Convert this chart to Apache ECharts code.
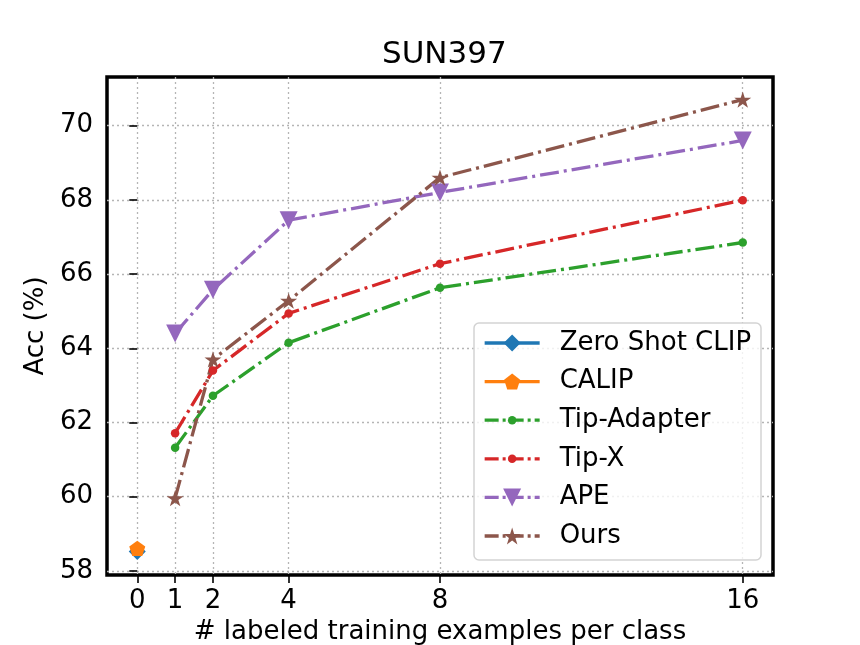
<!DOCTYPE html>
<html>
<head>
<meta charset="utf-8">
<script src="https://cdn.jsdelivr.net/npm/echarts@6/dist/echarts.min.js"></script>
<style>
  html, body { margin: 0; padding: 0; background: #fff; }
  #main { width: 860px; height: 645px; }
</style>
</head>
<body>
<div id="main"></div>
<script>
// values
const shots = [1, 2, 4, 8, 16];
const xTicks = [0, 1, 2, 4, 8, 16];
const yTicks = [58, 60, 62, 64, 66, 68, 70];
const zeroShotClip = [58.52];
const calip = [58.61];
const tipAdapter = [61.32, 62.72, 64.15, 65.63, 66.85];
const tipX = [61.71, 63.40, 64.94, 66.28, 67.99];
const ape = [64.40, 65.58, 67.45, 68.20, 69.60];
const ours = [59.96, 63.70, 65.28, 68.60, 70.70];

const FONT = 'DejaVu Sans';
const STAR = 'path://M50,0 L61.2,34.5 L97.6,34.5 L68.2,55.9 L79.4,90.5 L50,69.1 L20.6,90.5 L31.8,55.9 L2.4,34.5 L38.8,34.5 Z';
const PENTAGON = 'path://M50,0 L97.6,34.5 L79.4,90.5 L20.6,90.5 L2.4,34.5 Z';
const dashDot = [19, 5, 3, 5];

const specs = [
  { name: 'Zero Shot CLIP', x: [0], y: zeroShotClip, color: '#1f77b4', symbol: 'diamond', size: 17, rotate: 0, dash: 'solid' },
  { name: 'CALIP', x: [0], y: calip, color: '#ff7f0e', symbol: PENTAGON, size: 16, rotate: 0, dash: 'solid' },
  { name: 'Tip-Adapter', x: shots, y: tipAdapter, color: '#2ca02c', symbol: 'circle', size: 8.5, rotate: 0, dash: dashDot },
  { name: 'Tip-X', x: shots, y: tipX, color: '#d62728', symbol: 'circle', size: 8.5, rotate: 0, dash: dashDot },
  { name: 'APE', x: shots, y: ape, color: '#9467bd', symbol: 'triangle', size: 18, rotate: 180, dash: dashDot },
  { name: 'Ours', x: shots, y: ours, color: '#8c564b', symbol: STAR, size: 17, rotate: 0, dash: dashDot }
];

const series = specs.map(s => ({
  name: s.name,
  type: 'line',
  data: s.x.map((v, i) => [v, s.y[i]]),
  color: s.color,
  symbol: s.symbol,
  symbolSize: s.size,
  symbolRotate: s.rotate,
  symbolKeepAspect: true,
  showSymbol: true,
  lineStyle: { width: 3.3, type: s.dash, color: s.color },
  itemStyle: { color: s.color },
  animation: false
}));

// one legend per entry so every marker keeps its own size
const legends = specs.map((s, i) => ({
  data: [s.name],
  orient: 'vertical',
  left: 483,
  top: 330 + i * 38.6,
  padding: 0,
  itemWidth: 55,
  itemHeight: s.size / 0.8,
  selectedMode: false,
  lineStyle: { width: 3.3, type: s.dash === 'solid' ? 'solid' : [14, 4, 3, 4] },
  textStyle: { fontFamily: FONT, fontSize: 26, lineHeight: 26, color: '#000', padding: [0, 0, 0, 15] }
}));

const splitStyle = { color: '#b5b5b5', width: 1.3, type: [2, 3] };

const chart = echarts.init(document.getElementById('main'), null, { renderer: 'canvas' });
chart.setOption({
  backgroundColor: '#fff',
  animation: false,
  title: {
    text: 'SUN397',
    left: 377,
    top: 34,
    textStyle: { fontFamily: FONT, fontSize: 31, fontWeight: 'normal', color: '#000' }
  },
  grid: {
    left: 107, right: 87, top: 77, bottom: 70,
    outerBoundsMode: 'none',
    show: true, borderColor: '#000', borderWidth: 3.5, backgroundColor: 'transparent'
  },
  xAxis: {
    type: 'value',
    min: -0.8,
    max: 16.8,
    name: '# labeled training examples per class',
    nameLocation: 'middle',
    nameGap: 43,
    nameTextStyle: { fontFamily: FONT, fontSize: 26, color: '#000' },
    axisLine: { show: false },
    axisTick: { show: true, customValues: xTicks, length: 8, lineStyle: { color: '#000', width: 1.6 } },
    axisLabel: { customValues: xTicks, fontFamily: FONT, fontSize: 26, color: '#000', margin: 13 },
    splitLine: { show: true, lineStyle: splitStyle }
  },
  yAxis: {
    type: 'value',
    min: 57.89,
    max: 71.31,
    name: 'Acc (%)',
    nameLocation: 'middle',
    nameGap: 57,
    nameTextStyle: { fontFamily: FONT, fontSize: 26, color: '#000' },
    axisLine: { show: false },
    axisTick: { show: true, customValues: yTicks, length: 8, lineStyle: { color: '#000', width: 1.6 } },
    axisLabel: { customValues: yTicks, fontFamily: FONT, fontSize: 26, color: '#000', margin: 14 },
    splitLine: { show: true, lineStyle: splitStyle }
  },
  legend: legends,
  graphic: [{
    type: 'rect',
    z: 3,
    shape: { x: 474, y: 323, width: 287, height: 237, r: 5 },
    style: { fill: 'rgba(255,255,255,0.8)', stroke: '#d3d3d3', lineWidth: 1.5 }
  }],
  series: series
});
</script>
</body>
</html>
